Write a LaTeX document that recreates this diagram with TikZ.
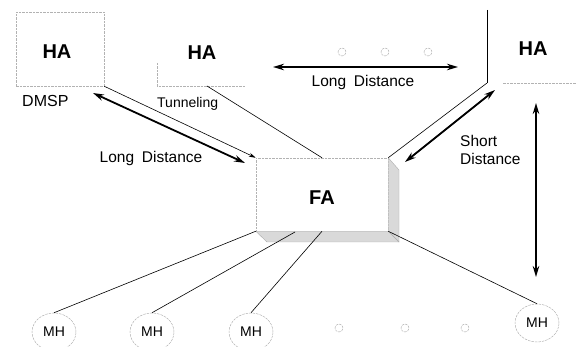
\documentclass[tikz,border=0pt]{standalone}
\usepackage{fontspec}
\setmainfont{Liberation Sans}
\usetikzlibrary{arrows.meta,shapes.geometric}
\begin{document}
\begin{tikzpicture}[x=1pt,y=-1pt,
  faint/.style={draw=gray!60, line width=0.5pt, dash pattern=on 2.5pt off 1pt},
  conn/.style={draw=black, line width=0.6pt},
  thinarrow/.style={conn, -{Stealth[length=7pt,width=4pt]}},
  big/.style={line width=1.8pt, {Stealth[length=11pt,width=6.5pt]}-{Stealth[length=11pt,width=6.5pt]}},
  hafont/.style={font=\fontsize{20}{22}\selectfont\bfseries, inner sep=0pt},
  lbl/.style={font=\fontsize{15.5}{18}\selectfont, inner sep=0pt},
  mhnode/.style={ellipse, faint, minimum width=44, minimum height=38, inner sep=0pt, font=\fontsize{14}{16}\selectfont},
  dotc/.style={circle, faint, minimum size=8, inner sep=0pt},
  face/.style={fill=gray!30, draw=gray!65, line width=0.4pt}
]
\useasboundingbox (0,0) rectangle (576,347);

% Home agents
\node[faint, minimum width=88, minimum height=74, inner sep=0pt] (ha1) at (60,49) {};
\node[hafont] (ha1t) at (57,52) {HA};
\node[hafont] (ha2) at (202,53) {HA};
\coordinate (ha2top) at (157,63);
\coordinate (ha2bl) at (157,86);
\coordinate (ha2br) at (245,86);
\coordinate (ha2o) at (207,86);
\draw[faint] (ha2top) -- (ha2bl) -- (ha2br);
\node[hafont] (ha3) at (533,49) {HA};
\coordinate (ha3top) at (487,10);
\coordinate (ha3c) at (487,83);
\coordinate (ha3b) at (503,83);
\coordinate (ha3r) at (576,83);
\draw[conn, line width=0.4pt] (ha3top) -- (ha3c);
\draw[faint] (ha3b) -- (ha3r);

% Foreign agent (3D box)
\node[faint, minimum width=132, minimum height=73, inner sep=0pt] (fa) at (322,194.5) {};
\node[hafont] (fat) at (322,198) {FA};
\coordinate (fr1) at (399,170);
\coordinate (fr2) at (399,242);
\coordinate (fb1) at (267,242);
\path[face] (fa.north east) -- (fr1) -- (fr2) -- (fa.south east) -- cycle;
\path[face] (fa.south west) -- (fb1) -- (fr2) -- (fa.south east) -- cycle;
\coordinate (f2) at (295,232);

% connections between agents
\draw[thinarrow] (ha1.south east) -- (fa.north west);
\draw[conn] (ha2o) -- (fa.north);
\draw[conn] (ha3c) -- (fa.north east);

% distance arrows
\coordinate (la1) at (93,93);
\coordinate (la2) at (245,163);
\draw[big] (la1) -- (la2);
\coordinate (lh1) at (273,67);
\coordinate (lh2) at (458,67);
\draw[big] (lh1) -- (lh2);
\coordinate (sd1) at (495,90);
\coordinate (sd2) at (405,162);
\draw[big] (sd1) -- (sd2);
\coordinate (v1) at (536,103);
\coordinate (v2) at (536,277);
\draw[big] (v1) -- (v2);

% small dots
\node[dotc] (d1) at (342,52) {};
\node[dotc] (d2) at (385,52) {};
\node[dotc] (d3) at (428,52) {};
\node[dotc] (d4) at (339,328) {};
\node[dotc] (d5) at (405,328) {};
\node[dotc] (d6) at (465,328) {};

% mobile hosts
\node[mhnode] (mh1) at (54,332) {MH};
\node[mhnode] (mh2) at (152,332) {MH};
\node[mhnode] (mh3) at (251,332) {MH};
\node[mhnode] (mh4) at (537,323) {MH};
\draw[conn] (fa.south west) -- (mh1.north);
\draw[conn] (f2) -- (mh2.north);
\draw[conn] (fa.south) -- (mh3.north);
\draw[conn] (fa.south east) -- (mh4.north);

% labels
\node[lbl, anchor=west, font=\fontsize{16}{18}\selectfont] (l1) at (22,101) {DMSP};
\node[lbl, anchor=west, font=\fontsize{14}{16}\selectfont] (l2) at (157,104) {Tunneling};
\node[lbl] (l3) at (151,158) {Long\hspace{0.5em}Distance};
\node[lbl] (l4) at (363,82) {Long\hspace{0.5em}Distance};
\node[lbl, anchor=west, align=left] (l5) at (460,150) {Short\\Distance};
\end{tikzpicture}
\end{document}
